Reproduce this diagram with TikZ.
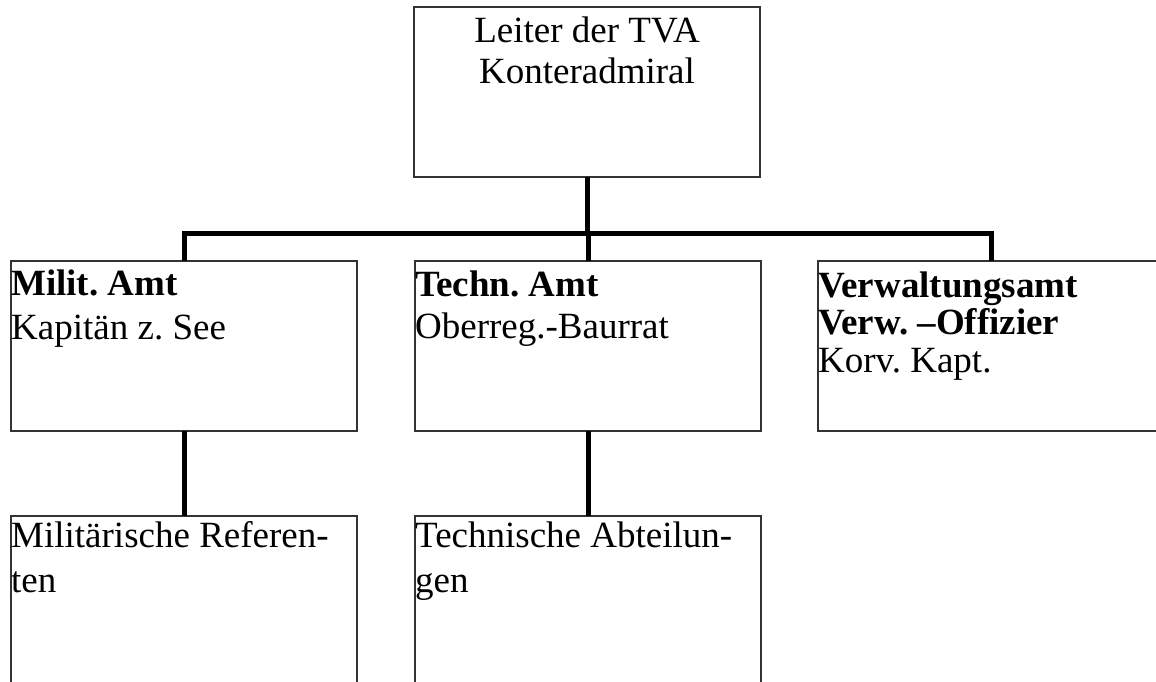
\documentclass[tikz,border=0pt]{standalone}
\usepackage{fontspec}
\setmainfont{Liberation Serif}
\frenchspacing

\tikzset{
  amt/.style={draw=black!80, line width=1.5pt, minimum width=346pt, minimum height=170pt,
    inner sep=0pt, outer sep=0pt, anchor=north west},
  amttext/.style={inner sep=0pt, align=left, anchor=base west,
    font=\fontsize{37}{43}\selectfont},
  conn/.style={line width=5pt}
}

\begin{document}
\begin{tikzpicture}[x=1pt,y=-1pt]
    \useasboundingbox (0,0) rectangle (1156,681);

    % boxes
    \node[amt] (leiter) at (414,7) {};
    \node[amt] (milit) at (11,261) {};
    \node[amt] (techn) at (415,261) {};
    \node[amt] (verw) at (818,261) {};
    \node[amt] (referenten) at (11,516) {};
    \node[amt] (abteilungen) at (415,516) {};

    % texts (shift = baseline of the last line)
    \node[amttext, anchor=base, align=center, font=\fontsize{37}{41}\selectfont] (leitertext)
        at ([yshift=-76pt]leiter.north) {Leiter der TVA\\Konteradmiral};
    \node[amttext, font=\fontsize{37}{44}\selectfont] (milittext) at ([yshift=-78pt]milit.north west)
        {\textbf{Milit. Amt}\\Kapitän z. See};
    \node[amttext, font=\fontsize{37}{42}\selectfont] (techntext) at ([yshift=-77pt]techn.north west)
        {\textbf{Techn. Amt}\\Oberreg.-Baurrat};
    \node[amttext, font=\fontsize{37}{37.5}\selectfont] (verwtext) at ([yshift=-111pt]verw.north west)
        {\textbf{Verwaltungsamt}\\\textbf{Verw. --Offizier}\\Korv. Kapt.};
    \node[amttext, font=\fontsize{37}{45}\selectfont] (referententext) at ([yshift=-76pt]referenten.north west)
        {Militärische Referen-\\ten};
    \node[amttext, font=\fontsize{37}{45}\selectfont] (abteilungentext) at ([yshift=-76pt]abteilungen.north west)
        {Technische Abteilun-\\gen};

    % connectors
    \coordinate (bar) at (588,233);
    \draw[conn] (leiter.south) -- (leiter.south |- bar);
    \draw[conn] (milit.north) -- (milit.north |- bar) -- (verw.north |- bar) -- (verw.north);
    \draw[conn] (techn.north) -- (techn.north |- bar);
    \draw[conn] (milit.south) -- (referenten.north);
    \draw[conn] (techn.south) -- (abteilungen.north);
\end{tikzpicture}
\end{document}
